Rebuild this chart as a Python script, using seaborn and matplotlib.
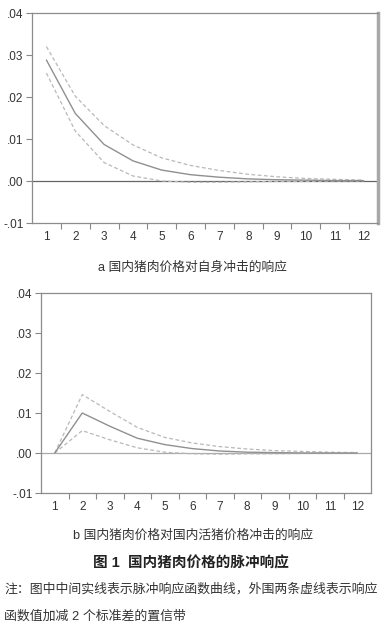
import numpy as np
import pandas as pd
import matplotlib
matplotlib.use("Agg")
import matplotlib.pyplot as plt
from matplotlib.ticker import FixedLocator, FuncFormatter
import seaborn as sns

periods = list(range(1, 13))

# panel a: response of domestic pork price to its own shock
a_mid = [0.0288, 0.0161, 0.0087, 0.0048, 0.0026, 0.0015, 0.0009, 0.0005, 0.0003, 0.0002, 0.0001, 0.0001]
a_upper = [0.0320, 0.0202, 0.0132, 0.0086, 0.0055, 0.0037, 0.0025, 0.0016, 0.0010, 0.0006, 0.0004, 0.0002]
a_lower = [0.0257, 0.0119, 0.0044, 0.0012, 0.0000, -0.0003, -0.0003, -0.0002, -0.0001, -0.0001, 0.0000, 0.0000]

# panel b: response of domestic pork price to live hog price shock
b_mid = [0.0, 0.0100, 0.0067, 0.0037, 0.0021, 0.0011, 0.0005, 0.0002, 0.0001, 0.0000, 0.0000, 0.0000]
b_upper = [0.0, 0.0146, 0.0104, 0.0064, 0.0039, 0.0025, 0.0016, 0.0010, 0.0006, 0.0004, 0.0002, 0.0001]
b_lower = [0.0, 0.0056, 0.0033, 0.0013, 0.0002, -0.0002, -0.0003, -0.0002, -0.0002, -0.0001, 0.0000, 0.0000]

yticks = [-0.01, 0.00, 0.01, 0.02, 0.03, 0.04]
ytick_labels = ["-.01", ".00", ".01", ".02", ".03", ".04"]

cap_a = "a 国内猪肉价格对自身冲击的响应"
cap_b = "b 国内猪肉价格对国内活猪价格冲击的响应"
fig_title = "图 1  国内猪肉价格的脉冲响应"
note_1 = "注：图中中间实线表示脉冲响应函数曲线，外围两条虚线表示响应"
note_2 = "函数值加减 2 个标准差的置信带"

sns.set_style("white")
plt.rcParams["font.family"] = ["Liberation Sans", "Noto Sans CJK SC", "DejaVu Sans"]

W, H = 387, 626
fig = plt.figure(figsize=(W / 100, H / 100), dpi=100)


def px_axes(left, top, right, bottom):
    return fig.add_axes([left / W, 1 - bottom / H, (right - left) / W, (bottom - top) / H])


def draw_panel(ax, mid, upper, lower, zero_color):
    df = pd.DataFrame({"period": periods, "mid": mid, "upper": upper, "lower": lower})
    ax.axhline(0, color=zero_color, lw=0.9, zorder=1)
    sns.lineplot(data=df, x="period", y="upper", ax=ax, color="#b8b8b8", lw=0.9, linestyle=(0, (3, 2)))
    sns.lineplot(data=df, x="period", y="lower", ax=ax, color="#b8b8b8", lw=0.9, linestyle=(0, (3, 2)))
    sns.lineplot(data=df, x="period", y="mid", ax=ax, color="#909090", lw=1.0)
    ax.set_xlim(0.5, 12.5)
    ax.set_ylim(-0.01, 0.04)
    ax.set_xlabel("")
    ax.set_ylabel("")
    ax.xaxis.set_major_locator(FixedLocator(periods))
    ax.xaxis.set_minor_locator(FixedLocator([p + 0.5 for p in periods[:-1]]))
    ax.set_yticks(yticks)
    ax.yaxis.set_major_formatter(FuncFormatter(lambda v, pos: ytick_labels[pos] if pos is not None and pos < len(ytick_labels) else ""))
    ax.tick_params(axis="x", which="major", length=0, pad=6, labelsize=8.5, colors="#333333")
    ax.tick_params(axis="x", which="minor", length=4, width=0.8, color="#888888", bottom=True)
    ax.tick_params(axis="y", which="major", length=4, width=0.8, color="#888888", left=True, pad=2, labelsize=8.5, labelcolor="#333333")
    for s in ax.spines.values():
        s.set_color("#8c8c8c")
        s.set_linewidth(0.9)


ax1 = px_axes(32, 13, 378, 223)
draw_panel(ax1, a_mid, a_upper, a_lower, "#666666")
ax1.spines["right"].set_linewidth(2.5)
ax1.spines["right"].set_color("#a8a8a8")

ax2 = px_axes(41, 293, 371, 493)
draw_panel(ax2, b_mid, b_upper, b_lower, "#aaaaaa")

fig.text(193 / W, 1 - 268 / H, cap_a, ha="center", va="center", fontsize=9.2, color="#333333")
fig.text(193 / W, 1 - 536 / H, cap_b, ha="center", va="center", fontsize=9.2, color="#333333")
fig.text(191 / W, 1 - 563 / H, fig_title, ha="center", va="center", fontsize=10.5, fontweight="bold", color="#222222")
fig.text(4 / W, 1 - 589 / H, note_1, ha="left", va="center", fontsize=9.3, color="#333333")
fig.text(4 / W, 1 - 617 / H, note_2, ha="left", va="center", fontsize=9.3, color="#333333")

fig.savefig("out.png", dpi=100, facecolor="white")
